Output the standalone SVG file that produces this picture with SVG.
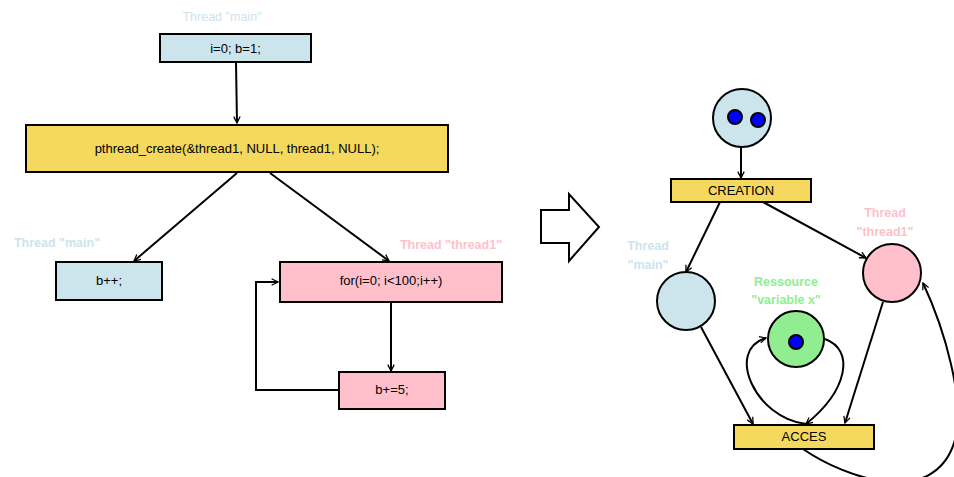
<svg xmlns="http://www.w3.org/2000/svg" width="954" height="477" viewBox="0 0 954 477">
<style>
.box{stroke:#000;stroke-width:2}
.blue{fill:#cce4ec}
.yellow{fill:#f5d85e}
.pink{fill:#ffc0cb}
.green{fill:#90ee90}
.tok{fill:#0000ff;stroke:#000;stroke-width:2}
.t{font-family:"Liberation Sans",Arial,sans-serif;font-size:13px;fill:#000;text-anchor:middle}
.lb{font-family:"Liberation Sans",Arial,sans-serif;font-size:12.5px;font-weight:bold;text-anchor:middle}
.lblue{fill:#cce4ee}
.lpink{fill:#ffc0cb}
.lgreen{fill:#90ee90}
.e{fill:none;stroke:#000;stroke-width:2;marker-end:url(#ah)}
</style>
<defs>
<marker id="ah" viewBox="0 0 10 10" refX="9" refY="5" markerWidth="8" markerHeight="8" markerUnits="userSpaceOnUse" orient="auto">
<path d="M1,1 L9,5 L1,9" fill="none" stroke="#000" stroke-width="1.6"/>
</marker>
</defs>
<g id="labels">
<text class="lb lblue" x="222" y="21" style="font-weight:normal">Thread "main"</text>
<text class="lb lblue" x="57" y="247">Thread "main"</text>
<text class="lb lpink" x="451" y="249">Thread "thread1"</text>
<text class="lb lblue" x="648" y="250">Thread</text>
<text class="lb lblue" x="648" y="269">"main"</text>
<text class="lb lpink" x="885" y="217">Thread</text>
<text class="lb lpink" x="885" y="236">"thread1"</text>
<text class="lb lgreen" x="786" y="286">Ressource</text>
<text class="lb lgreen" x="786" y="304">"variable x"</text>
</g>
<g id="connectors">
<path class="e" d="M236,63 L237,123"/>
<path class="e" d="M237,173 L134,261"/>
<path class="e" d="M270,173 L389,261"/>
<path class="e" d="M391,303 L391,371"/>
<path class="e" d="M338,390 L256,390 L256,282 L278,282"/>
<path class="e" d="M741,147 L741,178"/>
<path class="e" d="M720,202 L686,272"/>
<path class="e" d="M763,202 L866,258"/>
<path class="e" d="M701,327 L753,424"/>
<path class="e" d="M883,302 L845,423"/>
<path class="e" d="M825,339 C855,350 848,390 806,424"/>
<path class="e" d="M806,424 C755,418 725,350 766,338"/>
<path class="e" d="M803,449 C845,478 935,510 955,440 C965,400 945,330 923,283"/>
</g>
<g id="n_init">
<rect class="box blue" x="160" y="34" width="151" height="28"/>
<text class="t" x="235.5" y="53">i=0; b=1;</text>
</g>
<g id="n_create">
<rect class="box yellow" x="26" y="125" width="422" height="47"/>
<text class="t" x="237" y="153">pthread_create(&amp;thread1, NULL, thread1, NULL);</text>
</g>
<g id="n_bpp">
<rect class="box blue" x="56" y="262" width="106" height="38"/>
<text class="t" x="109" y="285">b++;</text>
</g>
<g id="n_for">
<rect class="box pink" x="280" y="262" width="222" height="40"/>
<text class="t" x="391" y="285">for(i=0; i&lt;100;i++)</text>
</g>
<g id="n_b5">
<rect class="box pink" x="339" y="372" width="106" height="37"/>
<text class="t" x="392" y="394">b+=5;</text>
</g>
<g id="big_arrow">
<path d="M541,210 L569,210 L569,194 L599,227 L569,261 L569,243 L541,243 Z" fill="#fff" stroke="#000" stroke-width="2"/>
</g>
<g id="p_start">
<circle class="box blue" cx="742" cy="118" r="29"/>
<circle class="tok" cx="735" cy="117" r="7"/>
<circle class="tok" cx="758" cy="120" r="7"/>
</g>
<g id="t_creation">
<rect class="box yellow" x="671" y="179" width="140" height="23"/>
<text class="t" x="741" y="195">CREATION</text>
</g>
<g id="p_main">
<circle class="box blue" cx="686" cy="301" r="29"/>
</g>
<g id="p_thread1">
<circle class="box pink" cx="892" cy="273" r="29"/>
</g>
<g id="p_res">
<circle class="box green" cx="796" cy="339" r="28"/>
<circle class="tok" cx="796" cy="342" r="7"/>
</g>
<g id="t_acces">
<rect class="box yellow" x="734" y="425" width="140" height="24"/>
<text class="t" x="804" y="441">ACCES</text>
</g>
</svg>
